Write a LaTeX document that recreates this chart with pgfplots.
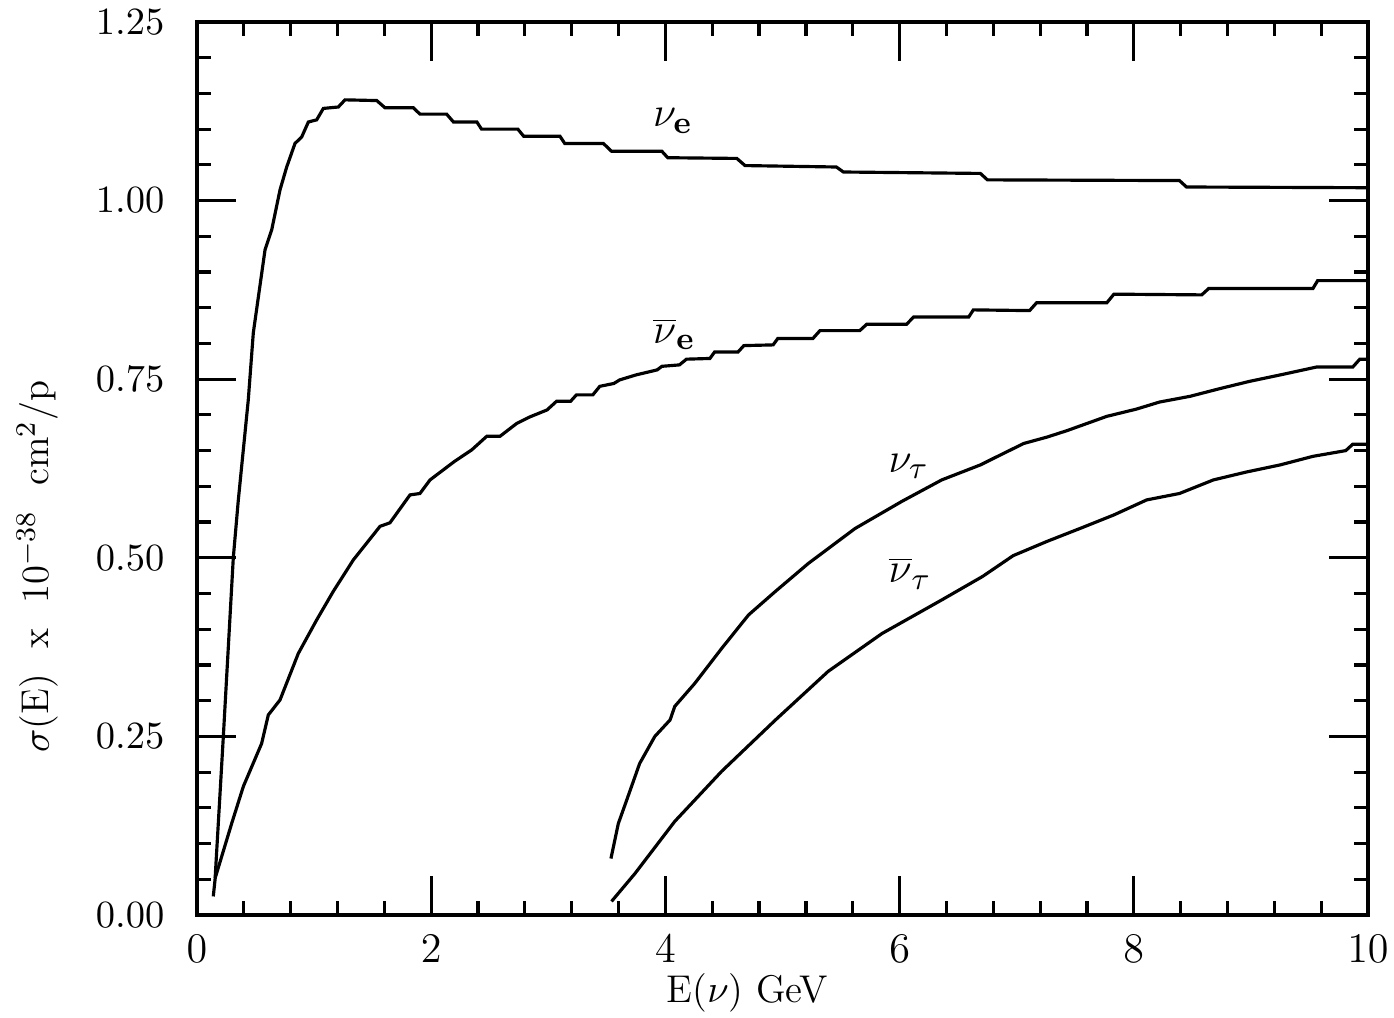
\documentclass[border=0pt]{standalone}
\usepackage{pgfplots}
\pgfplotsset{compat=1.18}
\begin{document}
\begin{tikzpicture}
\begin{axis}[
  scale only axis,
  width=11.71cm, height=8.93cm,
  xmin=0, xmax=10, ymin=0, ymax=1.25,
  xtick={0,2,4,6,8,10},
  ytick={0,0.25,0.5,0.75,1.0,1.25},
  minor x tick num=4, minor y tick num=4,
  xtick pos=both, ytick pos=both, ticklabel pos=left,
  tick align=inside,
  major tick length=0.39cm, minor tick length=0.14cm,
  axis line style={line width=1pt},
  every tick/.style={line width=0.9pt, black},
  yticklabel style={/pgf/number format/fixed, /pgf/number format/fixed zerofill,
    /pgf/number format/precision=2, font=\fontsize{11}{13}\selectfont,
    inner sep=1pt, xshift=-0.285cm},
  xticklabel style={font=\fontsize{11.5}{13}\selectfont, inner sep=1pt, yshift=-0.16cm},
  xlabel={E($\nu$) GeV},
  ylabel={$\sigma$(E) \ x \ 10$^{-38}$ \ cm$^2$/p},
  every axis x label/.style={at={(rel axis cs:0.47,-0.0873)}, anchor=center,
    inner sep=0pt, font=\fontsize{11}{13}\selectfont},
  every axis y label/.style={at={(rel axis cs:-0.136,0.39)}, rotate=90, anchor=center,
    inner sep=0pt, font=\fontsize{11}{13}\selectfont},
]
% nu_e
\addplot[black, line width=0.9pt] coordinates {
(0.139,0.026) (0.154,0.049) (0.225,0.25) (0.31,0.50) (0.353,0.581) (0.438,0.721)
(0.481,0.815) (0.581,0.931) (0.638,0.959) (0.709,1.015) (0.766,1.047) (0.837,1.080)
(0.894,1.089) (0.951,1.110) (1.022,1.113) (1.079,1.129) (1.207,1.131) (1.264,1.141)
(1.535,1.140) (1.605,1.130) (1.847,1.130) (1.904,1.121) (2.132,1.121) (2.19,1.110)
(2.39,1.110) (2.43,1.100) (2.74,1.100) (2.79,1.090) (3.10,1.090) (3.14,1.080)
(3.47,1.080) (3.54,1.069) (3.97,1.069) (4.02,1.060) (4.61,1.059) (4.68,1.049)
(5.46,1.047) (5.52,1.040) (6.69,1.038) (6.75,1.029) (8.39,1.028) (8.45,1.019) (10,1.018)
};
% anti nu_e
\addplot[black, line width=0.9pt] coordinates {
(0.154,0.051) (0.296,0.128) (0.396,0.180) (0.552,0.240) (0.609,0.280) (0.709,0.301)
(0.865,0.366) (1.022,0.413) (1.164,0.453) (1.335,0.497) (1.563,0.544) (1.648,0.549)
(1.819,0.588) (1.904,0.590) (1.99,0.609) (2.2,0.635) (2.346,0.651) (2.474,0.670)
(2.587,0.670) (2.73,0.688) (2.84,0.697) (2.99,0.707) (3.07,0.719) (3.19,0.719)
(3.24,0.728) (3.38,0.728) (3.44,0.740) (3.56,0.744) (3.61,0.749) (3.75,0.756)
(3.93,0.763) (3.97,0.768) (4.12,0.770) (4.18,0.778) (4.38,0.779) (4.42,0.788)
(4.62,0.788) (4.67,0.797) (4.92,0.798) (4.96,0.807) (5.26,0.807) (5.32,0.818)
(5.66,0.818) (5.72,0.827) (6.06,0.827) (6.12,0.837) (6.59,0.837) (6.63,0.847)
(7.11,0.846) (7.17,0.857) (7.77,0.857) (7.83,0.869) (8.58,0.868) (8.64,0.877)
(9.53,0.877) (9.57,0.888) (10,0.888)
};
% nu_tau
\addplot[black, line width=0.9pt] coordinates {
(3.535,0.079) (3.598,0.128) (3.67,0.161) (3.78,0.212) (3.91,0.250) (4.04,0.273)
(4.08,0.292) (4.25,0.324) (4.48,0.373) (4.71,0.420) (4.94,0.453) (5.22,0.492)
(5.62,0.541) (6.02,0.579) (6.36,0.609) (6.69,0.630) (6.80,0.639) (7.06,0.660)
(7.26,0.669) (7.43,0.678) (7.77,0.698) (8.02,0.708) (8.22,0.718) (8.48,0.726)
(8.74,0.737) (8.99,0.747) (9.28,0.757) (9.56,0.767) (9.87,0.767) (9.93,0.778) (10,0.778)
};
% anti nu_tau
\addplot[black, line width=0.9pt] coordinates {
(3.54,0.019) (3.74,0.058) (4.08,0.131) (4.48,0.201) (4.94,0.273) (5.39,0.341)
(5.85,0.394) (6.36,0.441) (6.71,0.474) (6.97,0.503) (7.26,0.523) (7.54,0.541)
(7.83,0.560) (8.11,0.581) (8.39,0.590) (8.68,0.609) (8.96,0.620) (9.25,0.630)
(9.53,0.642) (9.81,0.650) (9.87,0.659) (10,0.659)
};
\node[anchor=base west, inner sep=0pt, font=\fontsize{13}{15}\selectfont] at (axis cs:3.89,1.103) {$\nu_{\mathbf{e}}$};
\node[anchor=base west, inner sep=0pt, font=\fontsize{13}{15}\selectfont] at (axis cs:3.89,0.800) {$\overline{\nu}_{\mathbf{e}}$};
\node[anchor=base west, inner sep=0pt, font=\fontsize{13}{15}\selectfont] at (axis cs:5.90,0.620) {$\nu_{\tau}$};
\node[anchor=base west, inner sep=0pt, font=\fontsize{13}{15}\selectfont] at (axis cs:5.90,0.465) {$\overline{\nu}_{\tau}$};
\coordinate (bl) at (rel axis cs:-0.16823,-0.11534);
\coordinate (tr) at (rel axis cs:1.0222,1.0246);
\end{axis}
\path (bl) rectangle (tr);
\end{tikzpicture}
\end{document}
